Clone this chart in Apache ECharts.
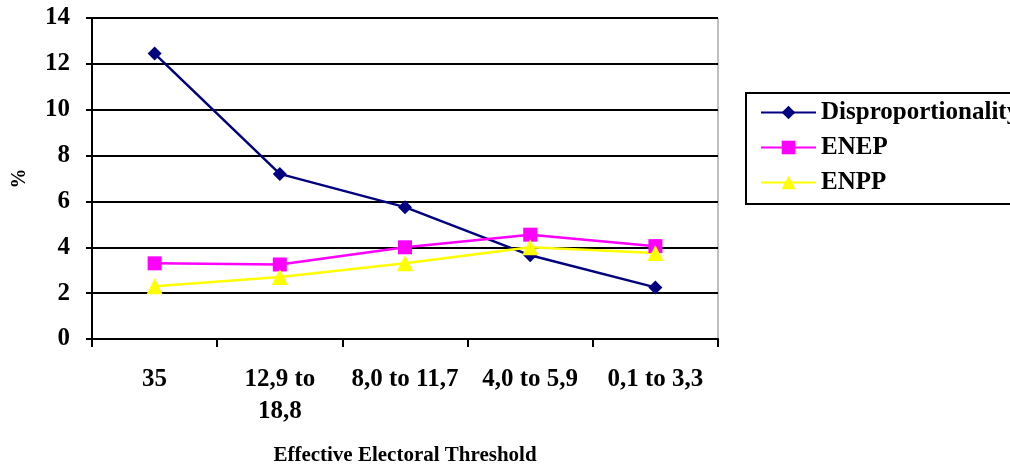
<!DOCTYPE html>
<html><head><meta charset="utf-8">
<script src="https://cdn.jsdelivr.net/npm/echarts@6/dist/echarts.min.js"></script>
<style>html,body{margin:0;padding:0;background:#fff}#c{width:1010px;height:471px}</style>
</head><body><div id="c"></div>
<script>
const categories = ['35', '12,9 to\n18,8', '8,0 to 11,7', '4,0 to 5,9', '0,1 to 3,3'];
const disproportionality = [12.45, 7.2, 5.75, 3.65, 2.25];
const enep = [3.3, 3.25, 4.0, 4.55, 4.05];
const enpp = [2.3, 2.7, 3.3, 4.0, 3.75];
const yTicks = [0, 2, 4, 6, 8, 10, 12, 14];

const F = 'Liberation Serif, Times New Roman, serif';
const chart = echarts.init(document.getElementById('c'));
chart.setOption({
  animation: false,
  backgroundColor: '#fff',
  grid: { left: 92, right: 292, top: 18, bottom: 128, containLabel: false,
    show: true, borderColor: '#808080', borderWidth: 1 },
  graphic: [{ type: 'rect', shape: { x: 746, y: 93, width: 280, height: 111 },
    style: { fill: 'none', stroke: '#000', lineWidth: 2 } }],
  legend: {
    left: 760, top: 100, padding: 0, orient: 'vertical', itemGap: 10, itemWidth: 55, itemHeight: 17,
    textStyle: { fontFamily: F, fontWeight: 'bold', fontSize: 25, color: '#000', lineHeight: 25 },
    data: ['Disproportionality', 'ENEP', 'ENPP']
  },
  xAxis: {
    type: 'category', data: categories, boundaryGap: true,
    name: 'Effective Electoral Threshold', nameLocation: 'middle', nameGap: 106,
    nameTextStyle: { fontFamily: F, fontWeight: 'bold', fontSize: 21, color: '#000' },
    axisLine: { lineStyle: { color: '#000', width: 2 } },
    axisTick: { show: true, length: 8, lineStyle: { color: '#000', width: 2 } },
    axisLabel: { fontFamily: F, fontWeight: 'bold', fontSize: 25, color: '#000', margin: 25, lineHeight: 32, interval: 0 }
  },
  yAxis: {
    type: 'value', min: 0, max: 14, interval: 2,
    name: '%', nameLocation: 'middle', nameGap: 62, nameRotate: 90,
    nameTextStyle: { fontFamily: F, fontWeight: 'bold', fontSize: 20, color: '#000' },
    axisLine: { show: true, lineStyle: { color: '#000', width: 2 } },
    axisTick: { show: true, length: 6, lineStyle: { color: '#000', width: 2 } },
    axisLabel: { fontFamily: F, fontWeight: 'bold', fontSize: 25, color: '#000', margin: 22,
      formatter: v => yTicks.includes(v) ? String(v) : '' },
    splitLine: { show: true, lineStyle: { color: '#000', width: 2 } }
  },
  series: [
    { name: 'Disproportionality', type: 'line', data: disproportionality, symbol: 'diamond', symbolSize: 14,
      itemStyle: { color: '#000080' }, lineStyle: { color: '#000080', width: 2.5 } },
    { name: 'ENEP', type: 'line', data: enep, symbol: 'rect', symbolSize: 14,
      itemStyle: { color: '#FF00FF' }, lineStyle: { color: '#FF00FF', width: 2.5 } },
    { name: 'ENPP', type: 'line', data: enpp, symbol: 'triangle', symbolSize: 16,
      itemStyle: { color: '#FFFF00' }, lineStyle: { color: '#FFFF00', width: 2.5 } }
  ]
});
</script></body></html>
